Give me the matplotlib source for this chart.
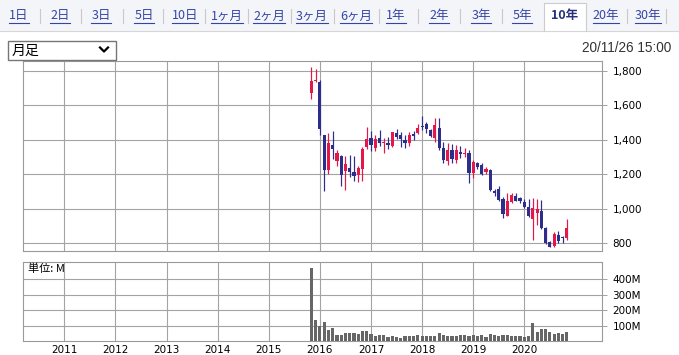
import matplotlib
matplotlib.use('Agg')
import matplotlib.pyplot as plt
from matplotlib.patches import Rectangle
from matplotlib.lines import Line2D
import numpy as np
import pandas as pd

plt.rcParams['font.family'] = ['DejaVu Sans', 'Noto Sans CJK JP']

# ---- data (monthly candles, Nov 2015 - Nov 2020) ----
months = pd.date_range('2015-11-01', periods=61, freq='MS')
opens = [1674, 1740, 1736, 1426, 1223, 1368, 1275, 1304, 1219, 1236, 1213, 1197,
         1232, 1358, 1409, 1354, 1412, 1380, 1380, 1366, 1438, 1428, 1399, 1380,
         1435, 1441, 1478, 1490, 1457, 1409, 1467, 1354, 1279, 1341, 1283, 1331,
         1318, 1325, 1205, 1263, 1253, 1211, 1224, 1102, 1112, 1054, 959, 1040,
         1073, 1060, 1040, 1008, 938, 973, 988, 886, 808, 783, 847, 835, 827]
highs = [1823, 1810, 1745, 1430, 1440, 1449, 1339, 1310, 1306, 1310, 1306, 1250,
         1360, 1475, 1450, 1430, 1457, 1409, 1415, 1447, 1461, 1447, 1430, 1447,
         1450, 1490, 1540, 1505, 1463, 1525, 1528, 1389, 1383, 1374, 1370, 1365,
         1355, 1341, 1283, 1273, 1263, 1240, 1228, 1115, 1131, 1066, 1089, 1092,
         1089, 1069, 1054, 1054, 1060, 1056, 1050, 891, 813, 866, 870, 841, 938]
lows = [1635, 1735, 1430, 1100, 1203, 1290, 1250, 1130, 1106, 1184, 1160, 1155,
        1160, 1345, 1335, 1335, 1364, 1322, 1345, 1360, 1405, 1360, 1355, 1366,
        1400, 1435, 1458, 1438, 1415, 1389, 1341, 1265, 1253, 1264, 1264, 1295,
        1302, 1150, 1180, 1228, 1195, 1201, 1102, 1073, 1046, 944, 959, 1031,
        1044, 1031, 1002, 953, 817, 904, 880, 794, 775, 778, 802, 802, 817]
closes = [1742, 1748, 1465, 1223, 1381, 1345, 1323, 1194, 1258, 1213, 1190, 1236,
          1345, 1403, 1372, 1405, 1380, 1389, 1370, 1444, 1415, 1403, 1383, 1428,
          1425, 1470, 1472, 1461, 1422, 1486, 1354, 1283, 1341, 1287, 1341, 1316,
          1325, 1209, 1273, 1240, 1201, 1228, 1108, 1089, 1050, 967, 1044, 1079,
          1046, 1044, 1011, 957, 1002, 996, 886, 798, 778, 851, 813, 828, 886]
volumes_m = [470, 138, 97, 123, 71, 84, 39, 39, 52, 52, 52, 45,
             65, 65, 45, 32, 39, 39, 26, 30, 26, 19, 32, 32,
             32, 39, 32, 32, 32, 32, 52, 40, 35, 35, 35, 40,
             38, 35, 38, 35, 40, 25, 45, 38, 35, 40, 40, 35,
             35, 35, 25, 35, 117, 55, 80, 75, 58, 45, 50, 45, 55]

year_ticks = list(range(2011, 2021))
price_ticks = [800, 1000, 1200, 1400, 1600, 1800]
vol_ticks = [100, 200, 300, 400]

tab_labels = ['1日', '2日', '3日', '5日', '10日', '1ヶ月', '2ヶ月', '3ヶ月', '6ヶ月',
              '1年', '2年', '3年', '5年', '10年', '20年', '30年']
selected_tab = '10年'

# ---- figure ----
W, H = 679, 355
fig = plt.figure(figsize=(W / 100, H / 100), dpi=100)
fig.patch.set_facecolor('white')


def fx(px):
    return px / W


def fy(py):
    return 1 - py / H


tf = fig.transFigure

# tab bar
fig.add_artist(Rectangle((0, fy(31)), 1, 31 / H, transform=tf,
                         facecolor='#f4f5f9', edgecolor='none'))
fig.add_artist(Line2D([0, 1], [fy(31), fy(31)], transform=tf, color='#d6d6d6', lw=0.8))
fig.add_artist(Rectangle((fx(544), fy(31.6)), 42 / W, 28.6 / H, transform=tf,
                         facecolor='white', edgecolor='none'))
fig.add_artist(Line2D([fx(544), fx(544), fx(586), fx(586)],
                      [fy(31), fy(3), fy(3), fy(31)], transform=tf, color='#cccccc', lw=0.8))

tab_x = [19, 60, 101, 144, 185, 227, 269, 312, 356, 396, 439, 481, 522, 565, 606, 648]
tab_texts = []
for lab, x in zip(tab_labels, tab_x):
    sel = lab == selected_tab
    t = fig.text(fx(x), fy(16), lab, ha='center', va='center', fontsize=9,
                 family=['Noto Sans CJK JP', 'DejaVu Sans'],
                 color='#27307a' if sel else '#3445a8',
                 fontweight='bold' if sel else 'normal')
    tab_texts.append((t, sel))

fig.canvas.draw()
renderer = fig.canvas.get_renderer()
exts = [t.get_window_extent(renderer) for t, s in tab_texts]
for (t, sel), bb in zip(tab_texts, exts):
    if not sel:
        fig.add_artist(Line2D([bb.x0 / W, bb.x1 / W], [fy(23), fy(23)], transform=tf,
                              color='#3445a8', lw=0.8))
for i in range(len(exts) - 1):
    if tab_texts[i][1] or tab_texts[i + 1][1]:
        continue
    xm = (exts[i].x1 + exts[i + 1].x0) / 2
    fig.add_artist(Line2D([xm / W, xm / W], [fy(9), fy(23)], transform=tf,
                          color='#c9c9c9', lw=0.8))
xm = exts[-1].x1 + 5
fig.add_artist(Line2D([xm / W, xm / W], [fy(9), fy(23)], transform=tf, color='#c9c9c9', lw=0.8))

# dropdown
fig.add_artist(Rectangle((fx(8), fy(60)), 108 / W, 19 / H, transform=tf,
                         facecolor='white', edgecolor='#767676', lw=1))
fig.text(fx(12), fy(50.5), '月足', ha='left', va='center', fontsize=10,
         family=['Noto Sans CJK JP'], color='black')
fig.add_artist(Line2D([fx(100), fx(104), fx(108)], [fy(47.5), fy(51.5), fy(47.5)],
                      transform=tf, color='black', lw=1.6))

fig.text(fx(671), fy(48), '20/11/26 15:00', ha='right', va='center', fontsize=9.8,
         family=['Liberation Sans'], color='#333333')

# ---- axes ----
xs = np.array(months.year + (months.month - 1) / 12.0)
xlim = (2010.19, 2021.52)
grid_c = '#a3a3a3'
spine_c = '#9a9a9a'
px = 0.72

ax = fig.add_axes([fx(23), 1 - 251 / H, (602 - 23) / W, (251 - 61) / H])
vax = fig.add_axes([fx(23), 1 - 341 / H, (602 - 23) / W, (341 - 262) / H])

o = np.array(opens, dtype=float)
c = np.array(closes, dtype=float)
up = c >= o
cols = np.where(up, '#e3174a', '#2d2d8c')
body_bottom = np.minimum(o, c)
body_h = np.maximum(np.abs(c - o), 5)

ax.vlines(xs, lows, highs, colors=cols, lw=1.2 * px, zorder=3)
ax.bar(xs, body_h, bottom=body_bottom, width=0.062, color=cols, zorder=4, linewidth=0)

ax.set_xlim(*xlim)
ax.set_ylim(754, 1858)
ax.set_xticks(year_ticks)
ax.set_xticklabels([])
ax.set_yticks(price_ticks)
ax.set_yticklabels([f'{v:,}' for v in price_ticks])
ax.yaxis.tick_right()
ax.tick_params(axis='y', length=5 * px, width=px, color=grid_c, labelsize=7.5, pad=4)
ax.tick_params(axis='x', length=0)
ax.grid(True, color=grid_c, lw=1.1 * px)
ax.set_axisbelow(True)
for s in ax.spines.values():
    s.set_color(spine_c)
    s.set_linewidth(1.1 * px)

vax.bar(xs, volumes_m, width=0.062, color='#666666', linewidth=0, zorder=3)
vax.set_xlim(*xlim)
vax.set_ylim(0, 510)
vax.set_xticks(year_ticks)
vax.set_xticklabels([str(y) for y in year_ticks])
vax.set_yticks(vol_ticks)
vax.set_yticklabels([f'{v}M' for v in vol_ticks])
vax.yaxis.tick_right()
vax.tick_params(axis='y', length=5 * px, width=px, color=grid_c, labelsize=7.5, pad=4)
vax.tick_params(axis='x', length=0, labelsize=7.5, pad=3)
vax.grid(True, color=grid_c, lw=1.1 * px)
vax.set_axisbelow(True)
for s in vax.spines.values():
    s.set_color(spine_c)
    s.set_linewidth(1.1 * px)
vax.text(5 / 579, 0.985, '単位: M', transform=vax.transAxes, ha='left', va='top',
         fontsize=8, family=['Noto Sans CJK JP', 'DejaVu Sans'], color='black')

fig.savefig('out.png', dpi=100, facecolor='white')
